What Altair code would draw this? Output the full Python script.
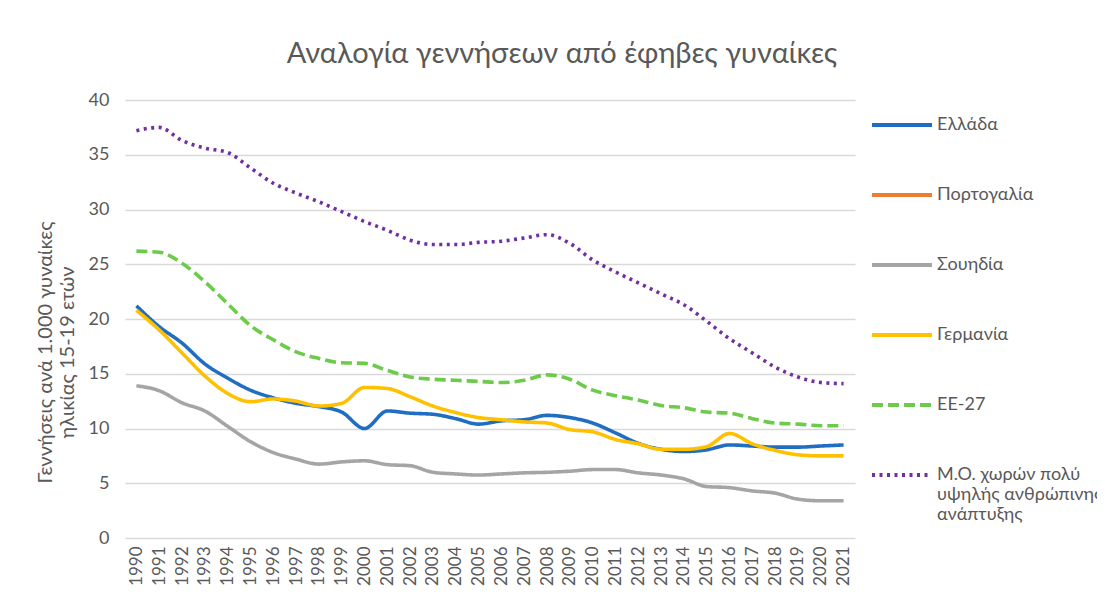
import altair as alt
import pandas as pd

years = list(range(1990, 2022))

greece = [21.2, 19.3, 17.8, 15.9, 14.6, 13.5, 12.8, 12.3, 12.0, 11.5, 10.0, 11.6, 11.4, 11.3, 10.9, 10.4,
          10.7, 10.8, 11.2, 11.0, 10.5, 9.6, 8.65, 8.1, 7.9, 8.05, 8.5, 8.4, 8.3, 8.3, 8.4, 8.5]
sweden = [13.9, 13.45, 12.35, 11.6, 10.2, 8.8, 7.8, 7.2, 6.75, 6.95, 7.05, 6.7, 6.6, 6.0, 5.85, 5.75,
          5.85, 5.95, 6.0, 6.1, 6.25, 6.25, 5.95, 5.75, 5.4, 4.7, 4.6, 4.3, 4.1, 3.55, 3.4, 3.4]
germany = [20.8, 19.0, 16.9, 14.8, 13.2, 12.45, 12.7, 12.5, 12.05, 12.3, 13.75, 13.65, 12.9, 12.05, 11.45, 11.0,
           10.8, 10.6, 10.5, 9.9, 9.7, 9.0, 8.6, 8.1, 8.1, 8.35, 9.55, 8.6, 8.0, 7.6, 7.5, 7.5]
eu27 = [26.2, 26.1, 25.1, 23.4, 21.4, 19.4, 18.1, 17.0, 16.4, 16.0, 15.95, 15.3, 14.7, 14.5, 14.4, 14.3,
        14.2, 14.4, 14.9, 14.5, 13.5, 13.0, 12.6, 12.1, 11.9, 11.5, 11.4, 10.9, 10.5, 10.4, 10.25, 10.25]
vhhd = [37.2, 37.5, 36.3, 35.6, 35.2, 33.8, 32.4, 31.5, 30.7, 29.8, 28.9, 28.1, 27.2, 26.8, 26.8, 27.0,
        27.1, 27.4, 27.7, 26.9, 25.4, 24.3, 23.3, 22.3, 21.3, 19.8, 18.2, 16.9, 15.6, 14.7, 14.2, 14.1]

series_names = ["Ελλάδα", "Πορτογαλία", "Σουηδία", "Γερμανία", "ΕΕ-27",
                "Μ.Ο. χωρών πολύ υψηλής ανθρώπινης ανάπτυξης"]
series_colors = ["#1F6EC1", "#ED7D31", "#A5A5A5", "#FFC000", "#6CCB4A", "#7030A0"]
series_dash = [[1, 0], [1, 0], [1, 0], [1, 0], [11, 5], [3, 4.5]]

values = {
    "Ελλάδα": greece,
    "Σουηδία": sweden,
    "Γερμανία": germany,
    "ΕΕ-27": eu27,
    "Μ.Ο. χωρών πολύ υψηλής ανθρώπινης ανάπτυξης": vhhd,
}

rows = []
for name, vals in values.items():
    for y, v in zip(years, vals):
        rows.append({"year": str(y), "value": v, "series": name})
df = pd.DataFrame(rows)

txt = "#595959"
font = "Lato"
last = series_names[-1]

legend = alt.Legend(
    title=None,
    orient="none",
    legendX=745,
    legendY=-7,
    symbolType="stroke",
    symbolSize=3600,
    symbolStrokeWidth=3.8,
    rowPadding=29,
    labelFontSize=18,
    labelColor=txt,
    labelFont=font,
    labelLimit=400,
    labelOffset=3,
    labelExpr=f"datum.label == '{last}' ? ['Μ.Ο. χωρών πολύ', 'υψηλής ανθρώπινης', 'ανάπτυξης'] : datum.label",
)

chart = alt.Chart(df).mark_line(strokeWidth=3.6, interpolate="monotone").encode(
    x=alt.X("year:O", title=None,
            axis=alt.Axis(labelAngle=-90, labelFontSize=17, labelColor=txt, labelFont=font,
                          ticks=False, domain=False, labelPadding=8)),
    y=alt.Y("value:Q", title=["Γεννήσεις ανά 1.000 γυναίκες", "ηλικίας 15-19 ετών"],
            scale=alt.Scale(domain=[0, 40]),
            axis=alt.Axis(values=[0, 5, 10, 15, 20, 25, 30, 35, 40], ticks=False, domain=False,
                          gridColor="#D9D9D9", gridWidth=1.3, labelFontSize=18, labelColor=txt,
                          labelFont=font, labelPadding=16,
                          titleFontSize=20, titleColor=txt, titleFont=font, titleFontWeight="normal",
                          titleX=-80, titleY=252, titleBaseline="middle", titleAngle=-90)),
    color=alt.Color("series:N", scale=alt.Scale(domain=series_names, range=series_colors), legend=legend),
    strokeDash=alt.StrokeDash("series:N", scale=alt.Scale(domain=series_names, range=series_dash), legend=legend),
).properties(
    width=730,
    height=438,
    title=alt.TitleParams("Αναλογία γεννήσεων από έφηβες γυναίκες", fontSize=29, color=txt, font=font,
                          fontWeight="normal", anchor="middle", dx=72, offset=22),
    autosize=alt.AutoSizeParams(type="none"),
    padding={"left": 117, "top": 92, "right": 242, "bottom": 62},
).configure_view(stroke=None)

chart.save("out.html", embed_options={"renderer": "svg", "actions": False})
